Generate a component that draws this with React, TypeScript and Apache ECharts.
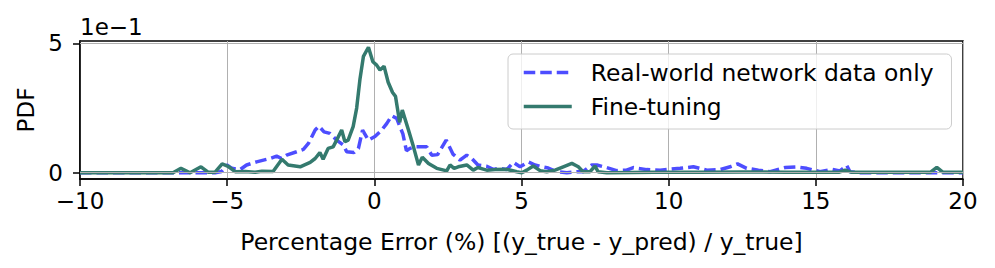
import React, { useEffect, useRef } from 'react';
import * as echarts from 'echarts';

// Axis ticks (x in %, y in units of 1e-1)
const xTicks = [-10, -5, 0, 5, 10, 15, 20];
const yTicks = [0, 5];
const yOffsetLabel = '1e\u22121';
const xAxisTitle = 'Percentage Error (%) [(y_true - y_pred) / y_true]';
const yAxisTitle = 'PDF';
const seriesNames = ['Real-world network data only', 'Fine-tuning'];

// Real-world network data only (PDF in units of 1e-1)
const realWorldX = [
  -10, -6.87, -5.41, -5.19, -5.01, -4.84, -4.56, -4.34, -4.0, -3.54, -3.32, -3.15, -2.98, -2.64, -2.41,
  -2.24, -2.01, -1.88, -1.71, -1.51, -1.28, -1.05, -0.94, -0.69, -0.54, -0.4, -0.2, 0.02, 0.25, 0.42,
  0.59, 0.76, 0.87, 0.97, 1.09, 1.21, 1.38, 1.55, 1.78, 1.95, 2.15, 2.44, 2.67, 2.91, 3.14, 3.31, 3.52,
  3.82, 4.04, 4.27, 4.5, 4.72, 4.95, 5.23, 5.46, 5.69, 5.91, 6.2, 6.54, 6.88, 7.09, 7.39, 7.56, 7.89,
  8.23, 8.57, 8.8, 9.25, 9.71, 10.39, 10.84, 11.3, 11.75, 12.09, 12.34, 12.65, 13.05, 13.45, 13.96,
  14.35, 14.69, 15.14, 15.54, 15.82, 16.05, 16.16, 16.5, 20,
];
const realWorldY = [
  0, 0, 0, 0.05, 0.3, 0.17, 0.12, 0.3, 0.42, 0.55, 0.64, 0.55, 0.68, 0.81, 0.9,
  1.13, 1.65, 1.8, 1.58, 1.52, 1.26, 1.07, 0.81, 0.78, 0.94, 1.65, 1.26, 1.4, 1.65, 1.9,
  2.2, 2.1, 1.78, 1.5, 0.85, 0.94, 1.0, 1.0, 1.0, 0.68, 0.7, 1.26, 0.72, 0.49, 0.68, 0.55, 0.3,
  0.25, 0.13, 0.17, 0.12, 0.4, 0.23, 0.42, 0.3, 0.23, 0.18, 0.04, 0.0, 0.04, 0.04, 0.3, 0.3, 0.2,
  0.08, 0.1, 0.2, 0.12, 0.1, 0.17, 0.23, 0.1, 0.12, 0.23, 0.34, 0.17, 0.1, 0.04, 0.2,
  0.22, 0.17, 0.04, 0.13, 0.07, 0.28, 0.04, 0.0, 0.0,
];

// Fine-tuning (PDF in units of 1e-1)
const fineTuningX = [
  -10, -6.84, -6.57, -6.26, -5.89, -5.65, -5.41, -5.17, -4.97, -4.73, -4.39, -4.05, -3.82, -3.44, -3.14,
  -2.93, -2.52, -2.18, -2.01, -1.85, -1.74, -1.57, -1.4, -1.28, -1.11, -1.0, -0.89, -0.72, -0.6, -0.49,
  -0.37, -0.2, -0.05, 0.08, 0.19, 0.33, 0.47, 0.62, 0.72, 0.86, 0.95, 1.16, 1.33, 1.5, 1.63, 1.84, 2.12,
  2.46, 2.57, 2.71, 2.85, 3.14, 3.36, 3.52, 3.67, 3.82, 4.1, 4.5, 4.84, 5.01, 5.18, 5.4, 5.63, 5.86,
  6.14, 6.42, 6.71, 6.93, 7.09, 7.33, 7.5, 7.6, 7.9, 9.5, 11.0, 12.5, 14.0, 15.8, 16.0, 16.2, 18.9,
  19.11, 19.3, 20,
];
const fineTuningY = [
  0, 0, 0.17, 0.0, 0.23, 0.02, 0.02, 0.34, 0.25, 0.04, 0.05, 0.02, 0.06, 0.05, 0.52,
  0.3, 0.23, 0.4, 0.55, 0.78, 0.52, 0.94, 1.0, 1.26, 1.65, 1.2, 1.26, 1.78, 2.5, 3.6,
  4.5, 4.85, 4.29, 4.16, 3.97, 4.12, 3.5, 3.1, 2.95, 1.95, 2.42, 1.65, 1.0, 0.3, 0.6, 0.36, 0.17,
  0.07, 0.3, 0.17, 0.23, 0.3, 0.1, 0.2, 0.15, 0.1, 0.12, 0.13, 0.04, 0.0, 0.1, 0.26, 0.08, 0.04,
  0.1, 0.23, 0.36, 0.23, 0.04, 0.04, 0.26, 0.04, 0.0, 0.02, 0.02, 0.03, 0.02, 0.02, 0.1, 0.02, 0.02,
  0.21, 0.03, 0.02,
];

const FONT = 'DejaVu Sans';
const fmtTick = (v: number) => (v < 0 ? '\u2212' + Math.abs(v) : String(v));
const zip = (xs: number[], ys: number[]) => xs.map((x, i) => [x, ys[i]]);

export default function App() {
  const ref = useRef<HTMLDivElement>(null);
  useEffect(() => {
    if (!ref.current) return;
    const chart = echarts.init(ref.current, null, { renderer: 'svg' });
    const gridColor = '#b0b0b0';
    const blue = '#4d4dff';
    const green = '#347a6e';
    const lw = 3.5;
    const option: any = {
      animation: false,
      backgroundColor: '#ffffff',
      textStyle: { fontFamily: FONT },
      grid: {
        left: 80,
        top: 41,
        width: 883,
        height: 138,
        show: true,
        borderColor: '#000',
        borderWidth: 1.5,
        backgroundColor: 'transparent',
        containLabel: false,
        outerBoundsMode: 'none',
      },
      xAxis: {
        type: 'value',
        min: xTicks[0],
        max: xTicks[xTicks.length - 1],
        interval: xTicks[1] - xTicks[0],
        name: xAxisTitle,
        nameLocation: 'middle',
        nameGap: 51,
        nameTextStyle: { fontSize: 23.5, color: '#000', fontFamily: FONT },
        axisLine: { show: true, onZero: false, lineStyle: { color: '#000', width: 1.5 } },
        axisTick: { show: true, length: 7, lineStyle: { color: '#000', width: 1.5 } },
        axisLabel: { fontSize: 23, color: '#000', fontFamily: FONT, margin: 10, formatter: fmtTick },
        splitLine: { show: true, lineStyle: { color: gridColor, width: 1 } },
      },
      yAxis: {
        type: 'value',
        min: -0.2425,
        max: 5.0925,
        name: yAxisTitle,
        nameLocation: 'middle',
        nameGap: 36,
        nameTextStyle: { fontSize: 23, color: '#000', fontFamily: FONT },
        axisLine: { show: true, onZero: false, lineStyle: { color: '#000', width: 1.5 } },
        axisTick: { show: true, length: 7, customValues: yTicks, lineStyle: { color: '#000', width: 1.5 } },
        axisLabel: {
          fontSize: 23,
          color: '#000',
          fontFamily: FONT,
          margin: 17,
          customValues: yTicks,
          formatter: fmtTick,
        },
        splitLine: { show: false },
      },
      legend: {
        data: seriesNames,
        orient: 'vertical',
        left: 508,
        top: 54,
        z: 10,
        itemWidth: 48,
        itemHeight: 14,
        itemGap: 7,
        padding: [5, 18, 9, 14],
        borderColor: '#cccccc',
        borderWidth: 1,
        borderRadius: 5,
        backgroundColor: 'rgba(255,255,255,0.8)',
        itemStyle: { opacity: 0, borderWidth: 0 },
        lineStyle: { width: lw },
        textStyle: { fontSize: 23.4, color: '#000', fontFamily: FONT, lineHeight: 27, padding: [0, 0, 0, 14] },
      },
      graphic: [
        {
          type: 'text',
          left: 80,
          top: 15,
          style: { text: yOffsetLabel, fontSize: 23, fontFamily: FONT, fill: '#000' },
        },
      ],
      series: [
        {
          type: 'line',
          name: '',
          data: zip(fineTuningX, fineTuningY),
          symbol: 'none',
          silent: true,
          z: 1,
          lineStyle: { opacity: 0 },
          markLine: {
            silent: true,
            symbol: ['none', 'none'],
            label: { show: false },
            lineStyle: { color: gridColor, width: 1, type: 'solid' },
            data: yTicks.map((v) => ({ yAxis: v })),
          },
        },
        {
          type: 'line',
          name: seriesNames[0],
          data: zip(realWorldX, realWorldY),
          symbol: 'none',
          z: 2,
          itemStyle: { color: blue },
          lineStyle: { color: blue, width: lw, type: [11.5, 5] },
        },
        {
          type: 'line',
          name: seriesNames[1],
          data: zip(fineTuningX, fineTuningY),
          symbol: 'none',
          z: 2,
          itemStyle: { color: green },
          lineStyle: { color: green, width: lw },
        },
      ],
    };
    chart.setOption(option);
    return () => chart.dispose();
  }, []);
  return <div ref={ref} style={{ position: 'absolute', left: 0, top: 0, width: 995, height: 268 }} />;
}
